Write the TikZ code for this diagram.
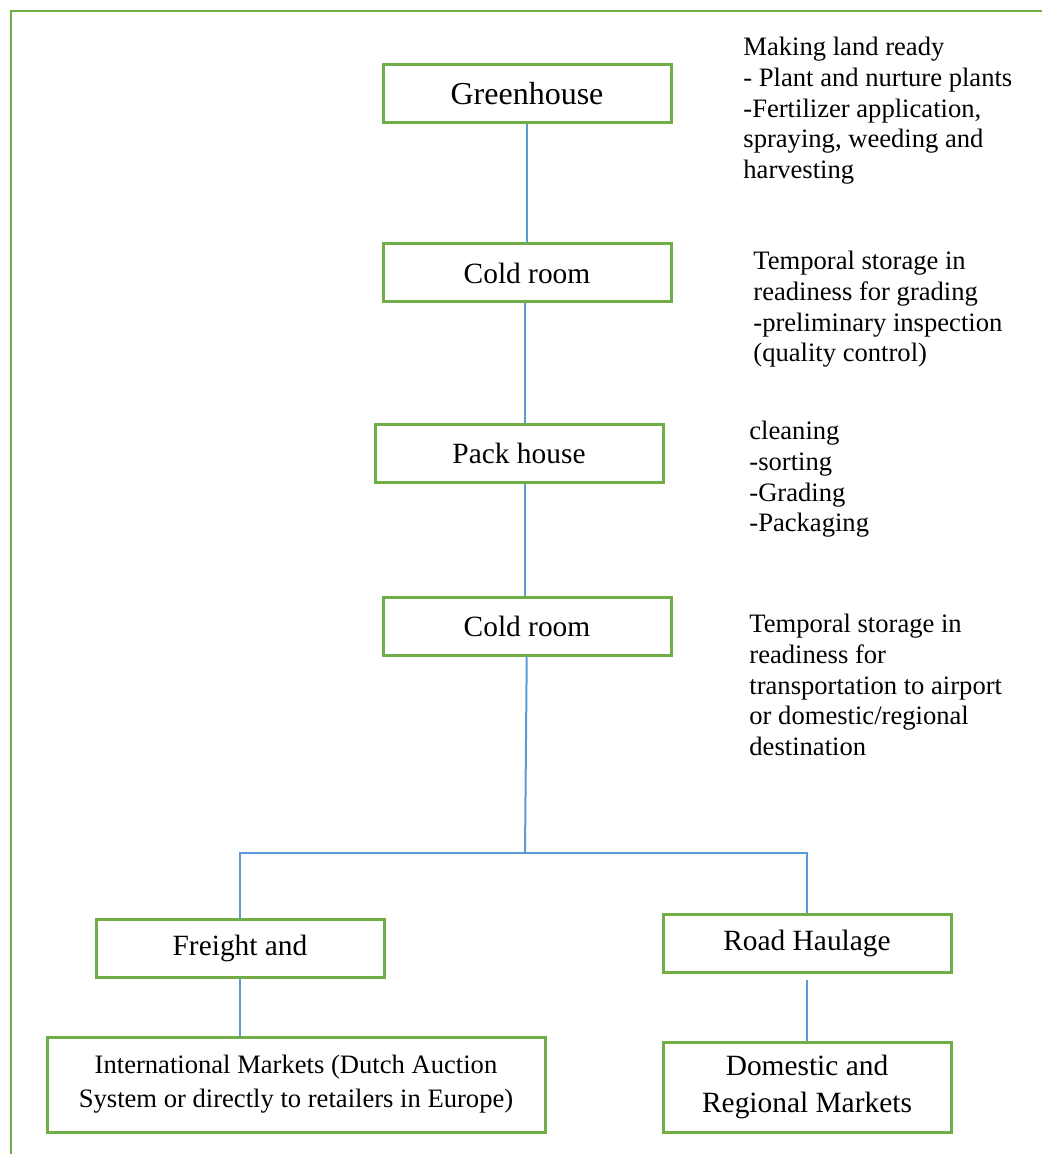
\documentclass[tikz,border=0pt]{standalone}
\usepackage{fontspec}
\setmainfont{Liberation Serif}
\definecolor{boxgreen}{HTML}{70AD47}
\definecolor{lineblue}{HTML}{5B9BD5}
\begin{document}
\begin{tikzpicture}[x=0.5pt, y=-0.5pt,
        stage/.style={rectangle, draw=boxgreen, line width=1.5pt, minimum width=144pt, minimum height=29pt, inner sep=2pt, font=\fontsize{14.7}{18.5}\selectfont},
        note/.style={anchor=north west, align=left, inner sep=0pt, font=\fontsize{13.3}{15.3}\selectfont},
        link/.style={draw=lineblue, line width=1pt}]
        \useasboundingbox (0, 0) rectangle (1042, 1154);
        \draw[boxgreen, line width=1pt] (11, 1154) -- (11, 11) -- (1042, 11);
        % stages
        \node (greenhouse) at (527, 94) [stage, font=\fontsize{16}{19}\selectfont] {Greenhouse};
        \node (cold1) at (527, 273) [stage] {Cold room};
        \node (pack) at (519, 453) [stage] {Pack house};
        \node (cold2) at (527, 626) [stage] {Cold room};
        \node (freight) at (240, 948) [stage] {Freight and};
        \node (road) at (807, 943) [stage] {Road Haulage};
        \node (intl) at (296, 1084.5) [stage, minimum width=249pt, minimum height=47.5pt, align=center, font=\fontsize{13.3}{17}\selectfont] {International Markets (Dutch Auction\\System or directly to retailers in Europe)};
        \node (domestic) at (807, 1087) [stage, minimum height=45pt, align=center] {Domestic and\\Regional Markets};
        % notes
        \node (note1) at (743, 37) [note] {Making land ready\\- Plant and nurture plants\\-Fertilizer application,\\spraying, weeding and\\harvesting};
        \node (note2) at (753, 251) [note] {Temporal storage in\\readiness for grading\\-preliminary inspection\\(quality control)};
        \node (note3) at (749, 421) [note] {cleaning\\-sorting\\-Grading\\-Packaging};
        \node (note4) at (749, 614) [note] {Temporal storage in\\readiness for\\transportation to airport\\or domestic/regional\\destination};
        % links
        \coordinate (split) at (525, 853);
        \draw[link] (greenhouse) -- (cold1);
        \draw[link] (cold1.south -| 525, 0) -- (pack.north -| 525, 0);
        \draw[link] (pack.south -| 525, 0) -- (cold2.north -| 525, 0);
        \draw[link] (cold2) -- (split);
        \draw[link] (freight.north) |- (split) -| (road.north);
        \draw[link] (freight) -- (intl.north -| freight);
        \draw[link, shorten <=3pt] (road) -- (domestic);
\end{tikzpicture}
\end{document}
